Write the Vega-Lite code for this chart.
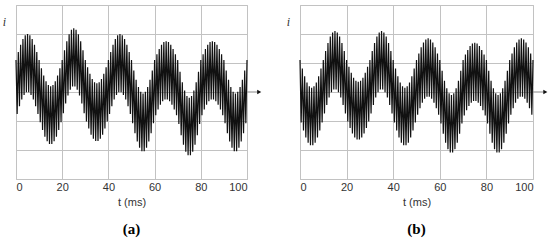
{
"$schema":"https://vega.github.io/schema/vega-lite/v6.json",
"padding":{"left":1,"top":4,"right":0,"bottom":0},
"config":{"view":{"stroke":"#c2c2c2"},"axis":{"gridColor":"#c2c2c2","gridOpacity":1,"gridWidth":1},"concat":{"spacing":53}},
"datasets":{
"a":[{"t":0,"v":1.1},{"t":0.5,"v":-0.76},{"t":1,"v":1.38},{"t":1.5,"v":-0.49},{"t":2,"v":1.63},{"t":2.5,"v":-0.26},{"t":3,"v":1.83},{"t":3.5,"v":-0.1},{"t":4,"v":1.96},{"t":4.5,"v":-0.01},{"t":5,"v":2.0},{"t":5.5,"v":-0.01},{"t":6,"v":1.96},{"t":6.5,"v":-0.1},{"t":7,"v":1.83},{"t":7.5,"v":-0.26},{"t":8,"v":1.63},{"t":8.5,"v":-0.49},{"t":9,"v":1.38},{"t":9.5,"v":-0.76},
{"t":10,"v":1.1},{"t":10.5,"v":-1.04},{"t":11,"v":0.82},{"t":11.5,"v":-1.31},{"t":12,"v":0.57},{"t":12.5,"v":-1.54},{"t":13,"v":0.37},{"t":13.5,"v":-1.7},{"t":14,"v":0.24},{"t":14.5,"v":-1.79},{"t":15,"v":0.2},{"t":15.5,"v":-1.79},{"t":16,"v":0.24},{"t":16.5,"v":-1.7},{"t":17,"v":0.37},{"t":17.5,"v":-1.54},{"t":18,"v":0.57},{"t":18.5,"v":-1.31},{"t":19,"v":0.82},{"t":19.5,"v":-1.04},
{"t":20,"v":1.1},{"t":20.5,"v":-0.73},{"t":21,"v":1.44},{"t":21.5,"v":-0.4},{"t":22,"v":1.75},{"t":22.5,"v":-0.12},{"t":23,"v":1.99},{"t":23.5,"v":0.08},{"t":24,"v":2.15},{"t":24.5,"v":0.19},{"t":25,"v":2.2},{"t":25.5,"v":0.19},{"t":26,"v":2.15},{"t":26.5,"v":0.08},{"t":27,"v":1.99},{"t":27.5,"v":-0.12},{"t":28,"v":1.75},{"t":28.5,"v":-0.4},{"t":29,"v":1.44},{"t":29.5,"v":-0.73},
{"t":30,"v":1.1},{"t":30.5,"v":-1.02},{"t":31,"v":0.85},{"t":31.5,"v":-1.26},{"t":32,"v":0.63},{"t":32.5,"v":-1.47},{"t":33,"v":0.45},{"t":33.5,"v":-1.61},{"t":34,"v":0.34},{"t":34.5,"v":-1.69},{"t":35,"v":0.3},{"t":35.5,"v":-1.69},{"t":36,"v":0.34},{"t":36.5,"v":-1.61},{"t":37,"v":0.45},{"t":37.5,"v":-1.47},{"t":38,"v":0.63},{"t":38.5,"v":-1.26},{"t":39,"v":0.85},{"t":39.5,"v":-1.02},
{"t":40,"v":1.1},{"t":40.5,"v":-0.76},{"t":41,"v":1.38},{"t":41.5,"v":-0.49},{"t":42,"v":1.63},{"t":42.5,"v":-0.26},{"t":43,"v":1.83},{"t":43.5,"v":-0.1},{"t":44,"v":1.96},{"t":44.5,"v":-0.01},{"t":45,"v":2.0},{"t":45.5,"v":-0.01},{"t":46,"v":1.96},{"t":46.5,"v":-0.1},{"t":47,"v":1.83},{"t":47.5,"v":-0.26},{"t":48,"v":1.63},{"t":48.5,"v":-0.49},{"t":49,"v":1.38},{"t":49.5,"v":-0.76},
{"t":50,"v":1.1},{"t":50.5,"v":-1.08},{"t":51,"v":0.74},{"t":51.5,"v":-1.42},{"t":52,"v":0.42},{"t":52.5,"v":-1.71},{"t":53,"v":0.17},{"t":53.5,"v":-1.92},{"t":54,"v":0.01},{"t":54.5,"v":-2.04},{"t":55,"v":-0.05},{"t":55.5,"v":-2.04},{"t":56,"v":0.01},{"t":56.5,"v":-1.92},{"t":57,"v":0.17},{"t":57.5,"v":-1.71},{"t":58,"v":0.42},{"t":58.5,"v":-1.42},{"t":59,"v":0.74},{"t":59.5,"v":-1.08},
{"t":60,"v":1.1},{"t":60.5,"v":-0.8},{"t":61,"v":1.3},{"t":61.5,"v":-0.6},{"t":62,"v":1.48},{"t":62.5,"v":-0.44},{"t":63,"v":1.63},{"t":63.5,"v":-0.32},{"t":64,"v":1.72},{"t":64.5,"v":-0.26},{"t":65,"v":1.75},{"t":65.5,"v":-0.26},{"t":66,"v":1.72},{"t":66.5,"v":-0.32},{"t":67,"v":1.63},{"t":67.5,"v":-0.44},{"t":68,"v":1.48},{"t":68.5,"v":-0.6},{"t":69,"v":1.3},{"t":69.5,"v":-0.8},
{"t":70,"v":1.1},{"t":70.5,"v":-1.1},{"t":71,"v":0.7},{"t":71.5,"v":-1.49},{"t":72,"v":0.34},{"t":72.5,"v":-1.82},{"t":73,"v":0.05},{"t":73.5,"v":-2.06},{"t":74,"v":-0.14},{"t":74.5,"v":-2.18},{"t":75,"v":-0.2},{"t":75.5,"v":-2.18},{"t":76,"v":-0.14},{"t":76.5,"v":-2.06},{"t":77,"v":0.05},{"t":77.5,"v":-1.82},{"t":78,"v":0.34},{"t":78.5,"v":-1.49},{"t":79,"v":0.7},{"t":79.5,"v":-1.1},
{"t":80,"v":1.1},{"t":80.5,"v":-0.8},{"t":81,"v":1.3},{"t":81.5,"v":-0.6},{"t":82,"v":1.48},{"t":82.5,"v":-0.44},{"t":83,"v":1.63},{"t":83.5,"v":-0.32},{"t":84,"v":1.72},{"t":84.5,"v":-0.26},{"t":85,"v":1.75},{"t":85.5,"v":-0.26},{"t":86,"v":1.72},{"t":86.5,"v":-0.32},{"t":87,"v":1.63},{"t":87.5,"v":-0.44},{"t":88,"v":1.48},{"t":88.5,"v":-0.6},{"t":89,"v":1.3},{"t":89.5,"v":-0.8},
{"t":90,"v":1.1},{"t":90.5,"v":-1.08},{"t":91,"v":0.74},{"t":91.5,"v":-1.42},{"t":92,"v":0.42},{"t":92.5,"v":-1.71},{"t":93,"v":0.17},{"t":93.5,"v":-1.92},{"t":94,"v":0.01},{"t":94.5,"v":-2.04},{"t":95,"v":-0.05},{"t":95.5,"v":-2.04},{"t":96,"v":0.01},{"t":96.5,"v":-1.92},{"t":97,"v":0.17},{"t":97.5,"v":-1.71},{"t":98,"v":0.42},{"t":98.5,"v":-1.42},{"t":99,"v":0.74},{"t":99.5,"v":-1.08},{"t":100,"v":1.1}],
"b":[{"t":0,"v":1.1},{"t":0.5,"v":-1.05},{"t":1,"v":0.81},{"t":1.5,"v":-1.33},{"t":2,"v":0.54},{"t":2.5,"v":-1.57},{"t":3,"v":0.33},{"t":3.5,"v":-1.75},{"t":4,"v":0.2},{"t":4.5,"v":-1.84},{"t":5,"v":0.15},{"t":5.5,"v":-1.84},{"t":6,"v":0.2},{"t":6.5,"v":-1.75},{"t":7,"v":0.33},{"t":7.5,"v":-1.57},{"t":8,"v":0.54},{"t":8.5,"v":-1.33},{"t":9,"v":0.81},{"t":9.5,"v":-1.05},
{"t":10,"v":1.1},{"t":10.5,"v":-0.74},{"t":11,"v":1.41},{"t":11.5,"v":-0.45},{"t":12,"v":1.69},{"t":12.5,"v":-0.19},{"t":13,"v":1.91},{"t":13.5,"v":-0.01},{"t":14,"v":2.05},{"t":14.5,"v":0.09},{"t":15,"v":2.1},{"t":15.5,"v":0.09},{"t":16,"v":2.05},{"t":16.5,"v":-0.01},{"t":17,"v":1.91},{"t":17.5,"v":-0.19},{"t":18,"v":1.69},{"t":18.5,"v":-0.45},{"t":19,"v":1.41},{"t":19.5,"v":-0.74},
{"t":20,"v":1.1},{"t":20.5,"v":-1.02},{"t":21,"v":0.87},{"t":21.5,"v":-1.24},{"t":22,"v":0.66},{"t":22.5,"v":-1.43},{"t":23,"v":0.49},{"t":23.5,"v":-1.57},{"t":24,"v":0.39},{"t":24.5,"v":-1.64},{"t":25,"v":0.35},{"t":25.5,"v":-1.64},{"t":26,"v":0.39},{"t":26.5,"v":-1.57},{"t":27,"v":0.49},{"t":27.5,"v":-1.43},{"t":28,"v":0.66},{"t":28.5,"v":-1.24},{"t":29,"v":0.87},{"t":29.5,"v":-1.02},
{"t":30,"v":1.1},{"t":30.5,"v":-0.74},{"t":31,"v":1.41},{"t":31.5,"v":-0.45},{"t":32,"v":1.69},{"t":32.5,"v":-0.19},{"t":33,"v":1.91},{"t":33.5,"v":-0.01},{"t":34,"v":2.05},{"t":34.5,"v":0.09},{"t":35,"v":2.1},{"t":35.5,"v":0.09},{"t":36,"v":2.05},{"t":36.5,"v":-0.01},{"t":37,"v":1.91},{"t":37.5,"v":-0.19},{"t":38,"v":1.69},{"t":38.5,"v":-0.45},{"t":39,"v":1.41},{"t":39.5,"v":-0.74},
{"t":40,"v":1.1},{"t":40.5,"v":-1.05},{"t":41,"v":0.81},{"t":41.5,"v":-1.33},{"t":42,"v":0.54},{"t":42.5,"v":-1.57},{"t":43,"v":0.33},{"t":43.5,"v":-1.75},{"t":44,"v":0.2},{"t":44.5,"v":-1.84},{"t":45,"v":0.15},{"t":45.5,"v":-1.84},{"t":46,"v":0.2},{"t":46.5,"v":-1.75},{"t":47,"v":0.33},{"t":47.5,"v":-1.57},{"t":48,"v":0.54},{"t":48.5,"v":-1.33},{"t":49,"v":0.81},{"t":49.5,"v":-1.05},
{"t":50,"v":1.1},{"t":50.5,"v":-0.78},{"t":51,"v":1.33},{"t":51.5,"v":-0.56},{"t":52,"v":1.54},{"t":52.5,"v":-0.37},{"t":53,"v":1.71},{"t":53.5,"v":-0.23},{"t":54,"v":1.81},{"t":54.5,"v":-0.16},{"t":55,"v":1.85},{"t":55.5,"v":-0.16},{"t":56,"v":1.81},{"t":56.5,"v":-0.23},{"t":57,"v":1.71},{"t":57.5,"v":-0.37},{"t":58,"v":1.54},{"t":58.5,"v":-0.56},{"t":59,"v":1.33},{"t":59.5,"v":-0.78},
{"t":60,"v":1.1},{"t":60.5,"v":-1.09},{"t":61,"v":0.73},{"t":61.5,"v":-1.44},{"t":62,"v":0.39},{"t":62.5,"v":-1.75},{"t":63,"v":0.13},{"t":63.5,"v":-1.97},{"t":64,"v":-0.04},{"t":64.5,"v":-2.09},{"t":65,"v":-0.1},{"t":65.5,"v":-2.09},{"t":66,"v":-0.04},{"t":66.5,"v":-1.97},{"t":67,"v":0.13},{"t":67.5,"v":-1.75},{"t":68,"v":0.39},{"t":68.5,"v":-1.44},{"t":69,"v":0.73},{"t":69.5,"v":-1.09},
{"t":70,"v":1.1},{"t":70.5,"v":-0.81},{"t":71,"v":1.29},{"t":71.5,"v":-0.63},{"t":72,"v":1.45},{"t":72.5,"v":-0.48},{"t":73,"v":1.59},{"t":73.5,"v":-0.37},{"t":74,"v":1.67},{"t":74.5,"v":-0.31},{"t":75,"v":1.7},{"t":75.5,"v":-0.31},{"t":76,"v":1.67},{"t":76.5,"v":-0.37},{"t":77,"v":1.59},{"t":77.5,"v":-0.48},{"t":78,"v":1.45},{"t":78.5,"v":-0.63},{"t":79,"v":1.29},{"t":79.5,"v":-0.81},
{"t":80,"v":1.1},{"t":80.5,"v":-1.09},{"t":81,"v":0.73},{"t":81.5,"v":-1.44},{"t":82,"v":0.39},{"t":82.5,"v":-1.75},{"t":83,"v":0.13},{"t":83.5,"v":-1.97},{"t":84,"v":-0.04},{"t":84.5,"v":-2.09},{"t":85,"v":-0.1},{"t":85.5,"v":-2.09},{"t":86,"v":-0.04},{"t":86.5,"v":-1.97},{"t":87,"v":0.13},{"t":87.5,"v":-1.75},{"t":88,"v":0.39},{"t":88.5,"v":-1.44},{"t":89,"v":0.73},{"t":89.5,"v":-1.09},
{"t":90,"v":1.1},{"t":90.5,"v":-0.78},{"t":91,"v":1.33},{"t":91.5,"v":-0.56},{"t":92,"v":1.54},{"t":92.5,"v":-0.37},{"t":93,"v":1.71},{"t":93.5,"v":-0.23},{"t":94,"v":1.81},{"t":94.5,"v":-0.16},{"t":95,"v":1.85},{"t":95.5,"v":-0.16},{"t":96,"v":1.81},{"t":96.5,"v":-0.23},{"t":97,"v":1.71},{"t":97.5,"v":-0.37},{"t":98,"v":1.54},{"t":98.5,"v":-0.56},{"t":99,"v":1.33},{"t":99.5,"v":-0.78},{"t":100,"v":1.1}],
"arrow":[{"x1":100,"x2":105,"y":0}],
"head":[{"x":105.3,"y":0}]
},
"bounds":"flush",
"hconcat":[
{"width":231,"height":174,
"title":{"text":"(a)","orient":"bottom","font":"Liberation Serif","fontSize":15,"fontWeight":"bold","color":"#000","offset":15,"anchor":"middle"},
"layer":[
{"data":{"name":"a"},"mark":{"type":"line","color":"#111","strokeWidth":1.2},
"encoding":{
"x":{"field":"t","type":"quantitative","scale":{"domain":[0,100],"nice":false},"axis":{"values":[0,20,40,60,80,100],"grid":true,"ticks":false,"domain":false,"labelPadding":2,"labelFontSize":11,"labelFont":"Liberation Sans","labelColor":"#333","title":"t (ms)","titleFont":"Liberation Sans","titleFontWeight":"normal","titleFontSize":11,"titlePadding":4,"titleColor":"#333"}},
"y":{"field":"v","type":"quantitative","scale":{"domain":[-3,3],"nice":false,"zero":false},"axis":{"values":[-3,-2,-1,0,1,2,3],"tickCount":7,"grid":true,"labels":false,"ticks":false,"domain":false,"title":"i","titleAngle":0,"titleX":-12,"titleY":16,"titleAlign":"center","titleBaseline":"middle","titleFont":"Liberation Serif","titleFontStyle":"italic","titleFontWeight":"normal","titleFontSize":12,"titleColor":"#333"}}}},
{"data":{"name":"arrow"},"mark":{"type":"rule","color":"#888","strokeWidth":1},
"encoding":{"x":{"field":"x1","type":"quantitative"},"x2":{"field":"x2"},"y":{"field":"y","type":"quantitative"}}},
{"data":{"name":"head"},"mark":{"type":"point","shape":"triangle-right","filled":true,"color":"#111","size":22,"opacity":1},
"encoding":{"x":{"field":"x","type":"quantitative"},"y":{"field":"y","type":"quantitative"}}}
]},
{"width":233,"height":174,
"title":{"text":"(b)","orient":"bottom","font":"Liberation Serif","fontSize":15,"fontWeight":"bold","color":"#000","offset":15,"anchor":"middle"},
"layer":[
{"data":{"name":"b"},"mark":{"type":"line","color":"#111","strokeWidth":1.2},
"encoding":{
"x":{"field":"t","type":"quantitative","scale":{"domain":[0,100],"nice":false},"axis":{"values":[0,20,40,60,80,100],"grid":true,"ticks":false,"domain":false,"labelPadding":2,"labelFontSize":11,"labelFont":"Liberation Sans","labelColor":"#333","title":"t (ms)","titleFont":"Liberation Sans","titleFontWeight":"normal","titleFontSize":11,"titlePadding":4,"titleColor":"#333"}},
"y":{"field":"v","type":"quantitative","scale":{"domain":[-3,3],"nice":false,"zero":false},"axis":{"values":[-3,-2,-1,0,1,2,3],"tickCount":7,"grid":true,"labels":false,"ticks":false,"domain":false,"title":"i","titleAngle":0,"titleX":-12,"titleY":16,"titleAlign":"center","titleBaseline":"middle","titleFont":"Liberation Serif","titleFontStyle":"italic","titleFontWeight":"normal","titleFontSize":12,"titleColor":"#333"}}}},
{"data":{"name":"arrow"},"mark":{"type":"rule","color":"#888","strokeWidth":1},
"encoding":{"x":{"field":"x1","type":"quantitative"},"x2":{"field":"x2"},"y":{"field":"y","type":"quantitative"}}},
{"data":{"name":"head"},"mark":{"type":"point","shape":"triangle-right","filled":true,"color":"#111","size":22,"opacity":1},
"encoding":{"x":{"field":"x","type":"quantitative"},"y":{"field":"y","type":"quantitative"}}}
]}
]
}
